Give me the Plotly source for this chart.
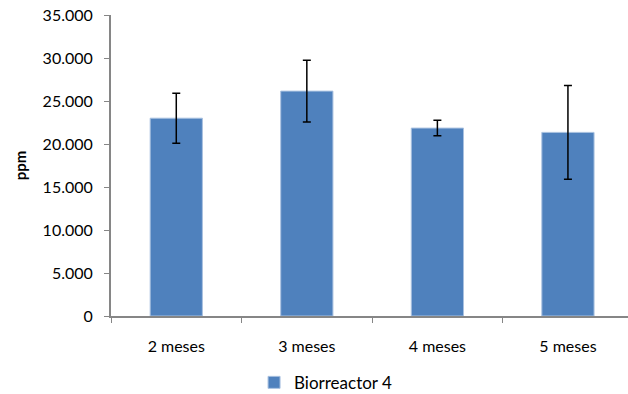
import plotly.graph_objects as go

categories = ["2 meses", "3 meses", "4 meses", "5 meses"]
values = [23000, 26150, 21850, 21350]
errors = [2900, 3600, 900, 5450]
series_name = "Biorreactor 4"
y_ticks = [0, 5000, 10000, 15000, 20000, 25000, 30000, 35000]

FONT = "Lato"
AXIS = "#868686"

fig = go.Figure()
fig.add_trace(go.Bar(
    x=categories, y=values, name=series_name,
    width=0.4,
    marker=dict(color="#4F81BD", line=dict(color="#A9C1E0", width=1)),
    error_y=dict(type="data", array=errors, visible=True, color="black",
                 thickness=1.5, width=4),
))

fig.update_layout(
    width=628, height=394,
    margin=dict(l=111, r=0, t=15, b=78, autoexpand=False),
    paper_bgcolor="white", plot_bgcolor="white",
    separators=",.",
    font=dict(family=FONT, size=15, color="black"),
    showlegend=True,
    legend=dict(orientation="h", x=0.415, xanchor="center", y=-0.222, yanchor="middle",
                font=dict(family=FONT, size=17), itemwidth=30),
    xaxis=dict(range=[-0.5, 3.46], showline=True, linecolor=AXIS, linewidth=2,
               ticks="outside", tickson="boundaries", ticklen=5, tickcolor=AXIS,
               showgrid=False, tickfont=dict(family=FONT, size=16),
               ticklabelstandoff=15, automargin=False),
    yaxis=dict(range=[0, 35000], tickvals=y_ticks, tickformat=",d",
               showline=True, linecolor=AXIS, linewidth=2,
               ticks="outside", ticklen=5, tickcolor=AXIS, showgrid=False,
               zeroline=False, tickfont=dict(family=FONT, size=16),
               ticklabelstandoff=8, automargin=False,
               title=dict(text="<b>ppm</b>", font=dict(family=FONT, size=15), standoff=12)),
)

fig.write_html("out.html", config={"displayModeBar": False},
               post_script="document.body.style.margin='0px';")
